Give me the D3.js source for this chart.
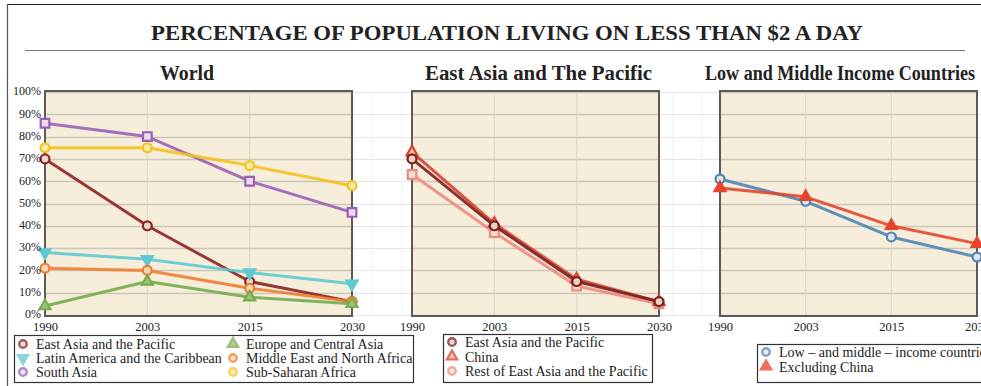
<!DOCTYPE html>
<html>
<head>
<meta charset="utf-8">
<script src="https://cdn.jsdelivr.net/npm/d3@7"></script>
<style>
  html, body { margin: 0; padding: 0; background: #fff; }
  svg { display: block; }
  text { font-family: "Liberation Serif", "Times New Roman", serif; fill: #222; }
</style>
</head>
<body>
<svg id="chart" width="981" height="386"></svg>
<script>
// Years shown on every panel
const years = ["1990", "2003", "2015", "2030"];
const yTickValues = [0, 10, 20, 30, 40, 50, 60, 70, 80, 90, 100];

// World regions (% living on less than $2 a day)
const eastAsiaPacific = [70, 40, 15, 6];
const latinAmericaCaribbean = [28, 25, 19, 14];
const southAsia = [86, 80, 60, 46];
const europeCentralAsia = [4, 15, 8, 5];
const middleEastNorthAfrica = [21, 20, 12, 6];
const subSaharanAfrica = [75, 75, 67, 58];

// East Asia and the Pacific breakdown
const eapTotal = [70, 40, 15, 6];
const china = [73, 41, 16, 6];
const restOfEap = [63, 37, 13, 5];

// Low and middle income countries
const lowMiddleIncome = [61, 51, 35, 26];
const excludingChina = [57, 53, 40, 32];

const panels = [
  {
    title: "World", x0: 45, x1: 352, titleX: 160, titleLen: 54, showY: true,
    legend: { x: 14, y: 335, w: 399, h: 47, colW: 210, rowH: 14, top: 9 },
    series: [
      { name: "East Asia and the Pacific", values: eastAsiaPacific, color: "#8d2424", symbol: "circle", fill: "#e9d9c6", col: 0, row: 0 },
      { name: "Latin America and the Caribbean", values: latinAmericaCaribbean, color: "#5ec9d0", symbol: "triDown", fill: "#5ec9d0", col: 0, row: 1 },
      { name: "South Asia", values: southAsia, color: "#9a5fb6", symbol: "square", fill: "#e8dde8", col: 0, row: 2 },
      { name: "Europe and Central Asia", values: europeCentralAsia, color: "#77ab4e", symbol: "triUp", fill: "#9cc27a", col: 1, row: 0 },
      { name: "Middle East and North Africa", values: middleEastNorthAfrica, color: "#ef7c2e", symbol: "circle", fill: "#f7d9b8", col: 1, row: 1 },
      { name: "Sub-Saharan Africa", values: subSaharanAfrica, color: "#f5c11d", symbol: "circle", fill: "#fbeaa8", col: 1, row: 2 }
    ],
    drawOrder: [2, 5, 0, 1, 4, 3]
  },
  {
    title: "East Asia and The Pacific", x0: 412, x1: 659, titleX: 425, titleLen: 227, showY: false,
    legend: { x: 443, y: 334, w: 209, h: 48, colW: 0, rowH: 14.5, top: 8 },
    series: [
      { name: "East Asia and the Pacific", values: eapTotal, color: "#7b2020", symbol: "circle", fill: "#e6d3c0", col: 0, row: 0 },
      { name: "China", values: china, color: "#d8432f", symbol: "triUp", fill: "#f2c7b5", col: 0, row: 1 },
      { name: "Rest of East Asia and the Pacific", values: restOfEap, color: "#ef8a80", symbol: "square", fill: "#f8e0d2", col: 0, row: 2 }
    ],
    drawOrder: [2, 1, 0]
  },
  {
    title: "Low and Middle Income Countries", x0: 720, x1: 977, titleX: 705, titleLen: 270, showY: false,
    legend: { x: 757, y: 344, w: 240, h: 38, colW: 0, rowH: 14.5, top: 8 },
    series: [
      { name: "Low \u2013 and middle \u2013 income countries", values: lowMiddleIncome, color: "#4f86b4", symbol: "circle", fill: "#dfe7ec", col: 0, row: 0 },
      { name: "Excluding China", values: excludingChina, color: "#e6452c", symbol: "triUp", fill: "#e6452c", col: 0, row: 1 }
    ],
    drawOrder: [0, 1]
  }
];

const svg = d3.select("#chart");

// Page frame and heading
svg.append("line").attr("x1", 8).attr("x2", 981).attr("y1", 4.5).attr("y2", 4.5)
  .attr("stroke", "#222").attr("stroke-width", 1.2);
svg.append("line").attr("x1", 7.5).attr("x2", 7.5).attr("y1", 4).attr("y2", 386)
  .attr("stroke", "#555").attr("stroke-width", 1.2);
svg.append("text")
  .attr("x", 507).attr("y", 40)
  .attr("text-anchor", "middle")
  .attr("font-size", 22).attr("font-weight", "bold")
  .attr("textLength", 712).attr("lengthAdjust", "spacingAndGlyphs")
  .text("PERCENTAGE OF POPULATION LIVING ON LESS THAN $2 A DAY");
svg.append("line").attr("x1", 25).attr("x2", 965).attr("y1", 50.5).attr("y2", 50.5)
  .attr("stroke", "#777").attr("stroke-width", 1);

const y = d3.scaleLinear().domain([0, 100]).range([315, 92]);

// Faint background grid running behind all panels
const bg = svg.append("g");
bg.selectAll("line.h").data(yTickValues).join("line")
  .attr("x1", 45).attr("x2", 981)
  .attr("y1", d => Math.round(y(d)) + 0.5).attr("y2", d => Math.round(y(d)) + 0.5)
  .attr("stroke", "#e3e5ec").attr("stroke-width", 1.2);
[372, 402, 673, 702].forEach(x => {
  bg.append("line").attr("x1", x).attr("x2", x).attr("y1", 92).attr("y2", 315)
    .attr("stroke", "#eef0f5").attr("stroke-width", 1);
});

function symbolPath(kind, size) {
  if (kind === "circle") return d3.symbol(d3.symbolCircle, size)();
  if (kind === "square") return d3.symbol(d3.symbolSquare, size)();
  return d3.symbol(d3.symbolTriangle, size)();
}

panels.forEach(p => {
  const x = d3.scalePoint().domain(years).range([p.x0, p.x1]);
  const g = svg.append("g");

  // plot background
  g.append("rect")
    .attr("x", p.x0).attr("y", y(100) - 1)
    .attr("width", p.x1 - p.x0).attr("height", y(0) - y(100) + 2)
    .attr("fill", "#f6eedb");

  // horizontal grid
  g.selectAll("line.grid-h").data(yTickValues).join("line")
    .attr("x1", p.x0).attr("x2", p.x1)
    .attr("y1", d => Math.round(y(d)) + 0.5).attr("y2", d => Math.round(y(d)) + 0.5)
    .attr("stroke", "#cdc6ba").attr("stroke-width", 1.3);

  // vertical grid
  g.selectAll("line.grid-v").data(years).join("line")
    .attr("x1", d => x(d)).attr("x2", d => x(d))
    .attr("y1", y(100)).attr("y2", y(0))
    .attr("stroke", "#dcd5c6").attr("stroke-width", 1);

  // frame
  g.append("rect")
    .attr("x", p.x0).attr("y", y(100) - 1)
    .attr("width", p.x1 - p.x0).attr("height", y(0) - y(100) + 2)
    .attr("fill", "none").attr("stroke", "#5e5a55").attr("stroke-width", 2);

  // panel title
  svg.append("text")
    .attr("x", p.titleX).attr("y", 80)
    .attr("font-size", 20).attr("font-weight", "bold")
    .attr("textLength", p.titleLen).attr("lengthAdjust", "spacingAndGlyphs")
    .text(p.title);

  // x axis labels
  const xAxis = d3.axisBottom(x).tickSize(0).tickPadding(5);
  const xa = svg.append("g").attr("transform", `translate(0,${y(0) + 2})`).call(xAxis);
  xa.select(".domain").remove();
  xa.selectAll("text").attr("font-size", 12.5)
    .attr("font-family", "'Liberation Serif', serif").attr("fill", "#222");

  // y axis labels
  if (p.showY) {
    const yAxis = d3.axisLeft(y).tickValues(yTickValues).tickSize(0).tickPadding(3)
      .tickFormat(d => d + "%");
    const ya = svg.append("g").attr("transform", `translate(${p.x0 - 1},-1)`).call(yAxis);
    ya.select(".domain").remove();
    ya.selectAll("text").attr("font-size", 12)
      .attr("font-family", "'Liberation Serif', serif").attr("fill", "#222");
  }

  // series lines and markers
  const line = d3.line().x((d, i) => x(years[i])).y(d => y(d));
  p.drawOrder.forEach(idx => {
    const s = p.series[idx];
    const sg = g.append("g");
    sg.append("path").datum(s.values)
      .attr("d", line)
      .attr("fill", "none").attr("stroke", s.color)
      .attr("stroke-width", 3).attr("stroke-linejoin", "round").attr("opacity", 0.9);
    const size = s.symbol === "square" ? 75 : (s.symbol === "circle" ? 62 : 52);
    sg.selectAll("path.mark").data(s.values).join("path")
      .attr("class", "mark")
      .attr("transform", (d, i) => `translate(${x(years[i])},${y(d)})` + (s.symbol === "triDown" ? " rotate(180)" : ""))
      .attr("d", symbolPath(s.symbol, size))
      .attr("fill", s.fill).attr("stroke", s.color).attr("stroke-width", 2.2);
  });

  // legend
  const L = p.legend;
  const lg = svg.append("g");
  lg.append("rect")
    .attr("x", L.x + 0.5).attr("y", L.y + 0.5).attr("width", L.w).attr("height", L.h)
    .attr("fill", "#fff").attr("stroke", "#333").attr("stroke-width", 1.2);
  p.series.forEach(s => {
    const cx = L.x + 9 + s.col * L.colW;
    const cy = L.y + L.top + s.row * L.rowH;
    lg.append("path")
      .attr("transform", `translate(${cx},${cy})` + (s.symbol === "triDown" ? " rotate(180)" : ""))
      .attr("d", symbolPath(s.symbol === "square" ? "circle" : s.symbol, 44))
      .attr("fill", s.fill).attr("stroke", s.color).attr("stroke-width", 2.4)
      .attr("opacity", 0.75);
    lg.append("text")
      .attr("x", cx + 13).attr("y", cy + 5)
      .attr("font-size", 14)
      .text(s.name);
  });
});
</script>
</body>
</html>
